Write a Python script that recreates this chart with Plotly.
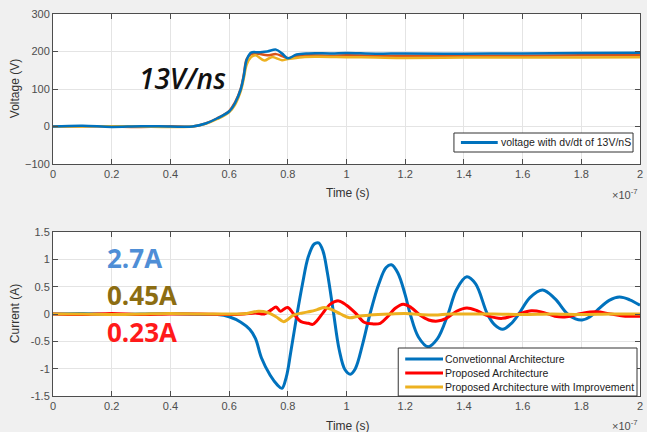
import plotly.graph_objects as go

# ---- Voltage (top) : time in units of 1e-7 s ----
tv_blue = [0, 0.1, 0.2, 0.3, 0.4, 0.475, 0.52, 0.56, 0.60, 0.62, 0.64, 0.65, 0.66, 0.675, 0.70, 0.73, 0.76, 0.78, 0.80, 0.83, 0.87, 0.95, 1.0, 1.1, 1.2, 1.4, 1.6, 1.8, 2.0]
v_blue = [0, 2, -1, 1, 0, 0, 8, 22, 40, 62, 100, 135, 178, 197, 198, 200, 205, 195, 182, 192, 195, 195, 196, 194, 195, 194, 195, 196, 197]

tv_red = [0, 0.1, 0.2, 0.3, 0.4, 0.475, 0.52, 0.56, 0.60, 0.62, 0.64, 0.65, 0.66, 0.675, 0.70, 0.73, 0.76, 0.78, 0.80, 0.83, 0.87, 0.95, 1.0, 1.1, 1.2, 1.4, 1.6, 1.8, 2.0]
v_red = [0, 1, 0, -1, 1, 0, 8, 22, 41, 64, 102, 138, 180, 193, 194, 190, 193, 188, 182, 188, 190, 189, 190, 189, 189, 188, 189, 190, 190]

tv_yel = [0, 0.1, 0.2, 0.3, 0.4, 0.475, 0.52, 0.56, 0.60, 0.62, 0.64, 0.65, 0.66, 0.675, 0.69, 0.72, 0.745, 0.78, 0.80, 0.85, 0.9, 1.0, 1.1, 1.2, 1.4, 1.6, 1.8, 2.0]
v_yel = [0, 0, 1, 0, -1, 0, 7, 20, 38, 58, 95, 128, 165, 185, 190, 176, 185, 177, 180, 185, 186, 185, 184, 183, 184, 184, 184, 185]

# ---- Current (bottom) ----
ti_conv = [0, 0.1, 0.2, 0.3, 0.4, 0.5, 0.56, 0.6, 0.64, 0.67, 0.69, 0.71, 0.74, 0.765, 0.78, 0.795, 0.81, 0.83, 0.85, 0.87, 0.89, 0.905, 0.92, 0.935, 0.955, 0.975, 0.995, 1.013, 1.03, 1.055, 1.08, 1.11, 1.135, 1.153, 1.175, 1.2, 1.217, 1.245, 1.278, 1.31, 1.346, 1.375, 1.41, 1.44, 1.48, 1.505, 1.532, 1.56, 1.587, 1.625, 1.668, 1.71, 1.753, 1.78, 1.803, 1.83, 1.86, 1.895, 1.93, 1.965, 2.0]
i_conv = [0, 0.01, -0.01, 0.0, 0.01, -0.01, -0.01, -0.05, -0.15, -0.28, -0.45, -0.80, -1.12, -1.30, -1.36, -1.15, -0.70, -0.05, 0.55, 1.05, 1.28, 1.30, 1.15, 0.75, 0.05, -0.65, -1.02, -1.10, -1.0, -0.55, 0.0, 0.55, 0.85, 0.90, 0.75, 0.35, 0.0, -0.42, -0.60, -0.45, 0.0, 0.45, 0.68, 0.55, 0.0, -0.20, -0.28, -0.18, 0.0, 0.30, 0.44, 0.28, 0.0, -0.09, -0.11, -0.05, 0.10, 0.25, 0.31, 0.26, 0.16]

ti_prop = [0, 0.1, 0.2, 0.3, 0.4, 0.5, 0.6, 0.65, 0.69, 0.72, 0.745, 0.76, 0.775, 0.79, 0.80, 0.82, 0.845, 0.87, 0.885, 0.9, 0.92, 0.945, 0.973, 1.0, 1.03, 1.06, 1.088, 1.115, 1.14, 1.165, 1.193, 1.22, 1.25, 1.28, 1.31, 1.34, 1.375, 1.41, 1.445, 1.48, 1.53, 1.575, 1.63, 1.67, 1.71, 1.75, 1.8, 1.85, 1.9, 1.95, 2.0]
i_prop = [0, -0.01, 0.01, -0.01, 0.0, 0.0, -0.01, 0.0, 0.02, 0.0, 0.08, 0.13, 0.05, 0.10, 0.12, 0.0, -0.14, -0.17, -0.19, -0.12, 0.02, 0.18, 0.24, 0.16, 0.02, -0.15, -0.18, -0.17, -0.05, 0.10, 0.18, 0.12, -0.02, -0.11, -0.13, -0.08, 0.05, 0.11, 0.06, -0.03, -0.08, -0.02, 0.06, 0.03, -0.04, -0.05, 0.01, 0.04, 0.0, -0.04, -0.04]

ti_impr = [0, 0.1, 0.2, 0.3, 0.4, 0.5, 0.6, 0.66, 0.70, 0.73, 0.76, 0.786, 0.80, 0.82, 0.85, 0.88, 0.90, 0.925, 0.95, 0.98, 1.01, 1.04, 1.08, 1.15, 1.2, 1.25, 1.3, 1.35, 1.4, 1.5, 1.6, 1.7, 1.8, 1.9, 2.0]
i_impr = [0, 0.0, -0.01, 0.0, 0.01, 0.0, 0.0, 0.01, 0.05, 0.03, -0.05, -0.14, -0.10, -0.02, 0.02, 0.05, 0.08, 0.12, 0.08, 0.0, -0.07, -0.04, -0.02, 0.0, 0.01, -0.01, -0.02, 0.0, 0.0, 0.0, -0.01, 0.0, -0.01, 0.0, 0.0]

x_ticks = [0, 0.2, 0.4, 0.6, 0.8, 1, 1.2, 1.4, 1.6, 1.8, 2]
x_ticktext = ["0", "0.2", "0.4", "0.6", "0.8", "1", "1.2", "1.4", "1.6", "1.8", "2"]
yv_ticks = [-100, 0, 100, 200, 300]
yi_ticks = [-1.5, -1, -0.5, 0, 0.5, 1, 1.5]
yi_ticktext = ["-1.5", "-1", "-0.5", "0", "0.5", "1", "1.5"]

legend_top_names = ["voltage with dv/dt of 13V/nS"]
legend_bottom_names = ["Convetionnal Architecture", "Proposed Architecture", "Proposed Architecture with Improvement"]

BLUE = "#0072BD"
ORANGE = "#D95319"
YELLOW = "#EDB120"
RED = "#FF0000"

W, H = 647, 432
ML, MR, MT, MB = 53, 4, 14, 36
PW, PH = W - ML - MR, H - MT - MB


def px(x):
    return (x - ML) / PW


def py(y):
    return (H - MB - y) / PH


fig = go.Figure()
fig.add_trace(go.Scatter(x=tv_red, y=v_red, mode="lines", line=dict(color=ORANGE, width=2.5, shape="spline"),
                         showlegend=False, xaxis="x", yaxis="y"))
fig.add_trace(go.Scatter(x=tv_yel, y=v_yel, mode="lines", line=dict(color=YELLOW, width=2.5, shape="spline"),
                         showlegend=False, xaxis="x", yaxis="y"))
fig.add_trace(go.Scatter(x=tv_blue, y=v_blue, mode="lines", line=dict(color=BLUE, width=2.5, shape="spline"),
                         name=legend_top_names[0], showlegend=False, xaxis="x", yaxis="y"))
fig.add_trace(go.Scatter(x=ti_conv, y=i_conv, mode="lines", line=dict(color=BLUE, width=3, shape="spline"),
                         name=legend_bottom_names[0], showlegend=False, xaxis="x2", yaxis="y2"))
fig.add_trace(go.Scatter(x=ti_prop, y=i_prop, mode="lines", line=dict(color=RED, width=3, shape="spline"),
                         name=legend_bottom_names[1], showlegend=False, xaxis="x2", yaxis="y2"))
fig.add_trace(go.Scatter(x=ti_impr, y=i_impr, mode="lines", line=dict(color=YELLOW, width=3, shape="spline"),
                         name=legend_bottom_names[2], showlegend=False, xaxis="x2", yaxis="y2"))

tickfont = dict(family="Liberation Sans, Arial, sans-serif", size=11, color="#4d4d4d")
common_x = dict(range=[0, 2], tickvals=x_ticks, ticktext=x_ticktext, showgrid=True, gridcolor="#e4e4e4",
                ticks="inside", ticklen=5, tickcolor="#4d4d4d", mirror="ticks", showline=True,
                linecolor="#4d4d4d", linewidth=1, zeroline=False, tickfont=tickfont, fixedrange=True)
common_y = dict(showgrid=True, gridcolor="#e4e4e4", ticks="inside", ticklen=5, tickcolor="#4d4d4d",
                mirror="ticks", showline=True, linecolor="#4d4d4d", linewidth=1, zeroline=False,
                tickfont=tickfont, fixedrange=True)

lab = dict(family="Liberation Sans, Arial, sans-serif", size=12, color="#333333")
legfont = dict(family="Liberation Sans, Arial, sans-serif", size=10.5, color="#222222")

shapes = []
annotations = [
    dict(text="Time (s)", x=px(350), y=py(193), xref="paper", yref="paper", xanchor="center", yanchor="middle", showarrow=False, font=lab),
    dict(text="Time (s)", x=px(350), y=py(426), xref="paper", yref="paper", xanchor="center", yanchor="middle", showarrow=False, font=lab),
    dict(text="Voltage (V)", x=px(15), y=py(89), xref="paper", yref="paper", xanchor="center", yanchor="middle", showarrow=False, textangle=-90, font=lab),
    dict(text="Current (A)", x=px(15), y=py(314), xref="paper", yref="paper", xanchor="center", yanchor="middle", showarrow=False, textangle=-90, font=lab),
    dict(text="×10<sup>-7</sup>", x=px(643), y=py(194), xref="paper", yref="paper", xanchor="right", yanchor="middle", showarrow=False, font=tickfont),
    dict(text="×10<sup>-7</sup>", x=px(643), y=py(425), xref="paper", yref="paper", xanchor="right", yanchor="middle", showarrow=False, font=tickfont),
    dict(text="<i>13V/ns</i>", x=px(137), y=py(78), xref="paper", yref="paper", xanchor="left", yanchor="middle", showarrow=False,
         font=dict(family="Open Sans, sans-serif", size=28, color="#111111", weight=600)),
    dict(text="<b>2.7A</b>", x=px(105), y=py(258), xref="paper", yref="paper", xanchor="left", yanchor="middle", showarrow=False,
         font=dict(family="Open Sans, sans-serif", size=26, color="#4F8ED6")),
    dict(text="<b>0.45A</b>", x=px(105), y=py(295), xref="paper", yref="paper", xanchor="left", yanchor="middle", showarrow=False,
         font=dict(family="Open Sans, sans-serif", size=26, color="#8C6D12")),
    dict(text="<b>0.23A</b>", x=px(105), y=py(332), xref="paper", yref="paper", xanchor="left", yanchor="middle", showarrow=False,
         font=dict(family="Open Sans, sans-serif", size=26, color="#FF1A1A")),
]


# legend boxes (drawn manually for MATLAB-like compact layout)
def add_legend(x0, y0, x1, y1, rows, names, colors, lx0, lx1, tx, lw):
    shapes.append(dict(type="rect", xref="paper", yref="paper", x0=px(x0), x1=px(x1), y0=py(y1), y1=py(y0),
                       fillcolor="#ffffff", line=dict(color="#333333", width=1), layer="above"))
    for r, n, c in zip(rows, names, colors):
        shapes.append(dict(type="line", xref="paper", yref="paper", x0=px(lx0), x1=px(lx1), y0=py(r), y1=py(r),
                           line=dict(color=c, width=lw), layer="above"))
        annotations.append(dict(text=n, x=px(tx), y=py(r), xref="paper", yref="paper", xanchor="left",
                                yanchor="middle", showarrow=False, font=legfont))


add_legend(456, 133, 636, 152, [142.5], legend_top_names, [BLUE], 463, 500, 501, 3)
add_legend(400, 348, 640, 396, [359, 373, 387], legend_bottom_names, [BLUE, RED, YELLOW], 407, 445, 445, 3)

fig.update_layout(
    width=W, height=H,
    margin=dict(l=ML, r=MR, t=MT, b=MB),
    paper_bgcolor="#f0f0f0", plot_bgcolor="#ffffff",
    showlegend=False,
    xaxis=dict(domain=[0, 1], anchor="y", **common_x),
    xaxis2=dict(domain=[0, 1], anchor="y2", **common_x),
    yaxis=dict(domain=[py(164), 1], anchor="x", range=[-100, 300], tickvals=yv_ticks, **common_y),
    yaxis2=dict(domain=[0, py(232)], anchor="x2", range=[-1.5, 1.5], tickvals=yi_ticks, ticktext=yi_ticktext, **common_y),
    shapes=shapes,
    annotations=annotations,
)

fig.write_html("out.html")
